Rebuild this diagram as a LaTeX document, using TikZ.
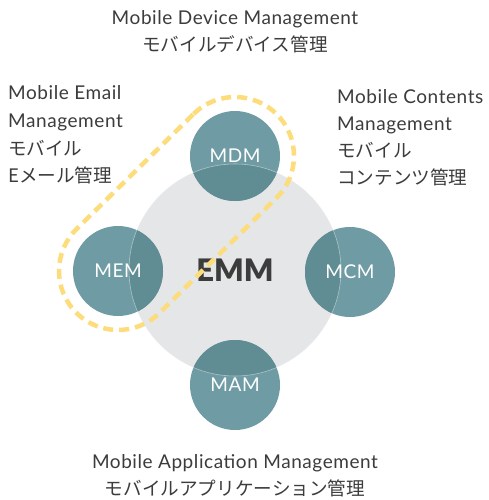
\documentclass[tikz,border=0pt]{standalone}
\usepackage{fontspec}
\setmainfont{Lato}
\newfontfamily\latsp{Lato}[LetterSpace=3]
\IfFontExistsTF{Lato Black}{\newfontfamily\emmfont{Lato Black}}{\newfontfamily\emmfont{Lato}[UprightFont=*-Bold, FakeBold=1.2]}
\newfontfamily\jpfont{Noto Sans CJK JP}
\usetikzlibrary{calc}
\definecolor{teallight}{HTML}{6F9CA4}
\definecolor{tealdark}{HTML}{608C93}
\definecolor{grayc}{HTML}{E5E6E8}
\definecolor{txt}{HTML}{3C3C3C}
\definecolor{dashy}{HTML}{FDDC7B}
\begin{document}
\begin{tikzpicture}[x=1pt,y=-1pt,
  lat/.style={font=\latsp\fontsize{19}{27}\selectfont, text=txt, inner sep=0pt},
  jpn/.style={font=\jpfont\fontsize{18.6}{27}\selectfont, text=txt, inner sep=0pt},
  smallc/.style={circle, minimum size=90pt, inner sep=0pt, fill=teallight},
  circtext/.style={text=white, font=\latsp\fontsize{19}{20}\selectfont, inner sep=0pt},
  capsule/.style={draw=dashy, line width=4.5pt, dash pattern=on 10pt off 6pt}]
\useasboundingbox (0,0) rectangle (488,500);
\fill[white] (0,0) rectangle (488,500);
% central circle
\node[circle, fill=grayc, minimum size=212pt, inner sep=0pt] (emm) at (235,270) {};
% satellites
\node[smallc] (mdm) at (235,156) {};
\node[smallc] (mem) at (118,271) {};
\node[smallc] (mcm) at (350,272) {};
\node[smallc] (mam) at (235,385) {};
\begin{scope}
  \clip (emm.center) circle (106);
  \fill[tealdark] (mdm.center) circle (45);
  \fill[tealdark] (mem.center) circle (45);
  \fill[tealdark] (mcm.center) circle (45);
  \fill[tealdark] (mam.center) circle (45);
\end{scope}
\draw[white, opacity=0.45, line width=0.6pt] (emm.center) circle (106);
% labels in circles
\node[circtext] (mdmt) at (mdm.center) {MDM};
\node[circtext] (memt) at (mem.center) {MEM};
\node[circtext] (mcmt) at (mcm.center) {MCM};
\node[circtext] (mamt) at (mam.center) {MAM};
\node[text=txt, font=\emmfont\fontsize{31}{36}\selectfont, inner sep=0pt] (emmt) at (emm.center) {EMM};
% dashed capsule
\draw[capsule] ($(mdm.center)+(-134.5:59)$) arc[start angle=-134.5, end angle=45.5, radius=59]
  -- ($(mem.center)+(45.5:59)$) arc[start angle=45.5, end angle=225.5, radius=59] -- cycle;
% top text
\node[lat, anchor=base] (top1) at (235,25) {Mobile Device Management};
\node[jpn, anchor=base] (top2) at (235,52) {モバイルデバイス管理};
% left text
\node[lat, anchor=base west] (left1) at (8,100) {Mobile Email};
\node[lat, anchor=base west] (left2) at (8,128) {Management};
\node[jpn, anchor=base west] (left3) at (8,155) {モバイル};
\node[jpn, anchor=base west] (left4) at (8,182) {Eメール管理};
% right text
\node[lat, anchor=base west] (right1) at (337,103) {Mobile Contents};
\node[lat, anchor=base west] (right2) at (337,130) {Management};
\node[jpn, anchor=base west] (right3) at (337,157) {モバイル};
\node[jpn, anchor=base west] (right4) at (337,184) {コンテンツ管理};
% bottom text
\node[lat, anchor=base] (bot1) at (235,468) {Mobile Application Management};
\node[jpn, anchor=base] (bot2) at (235,495) {モバイルアプリケーション管理};
\end{tikzpicture}
\end{document}
